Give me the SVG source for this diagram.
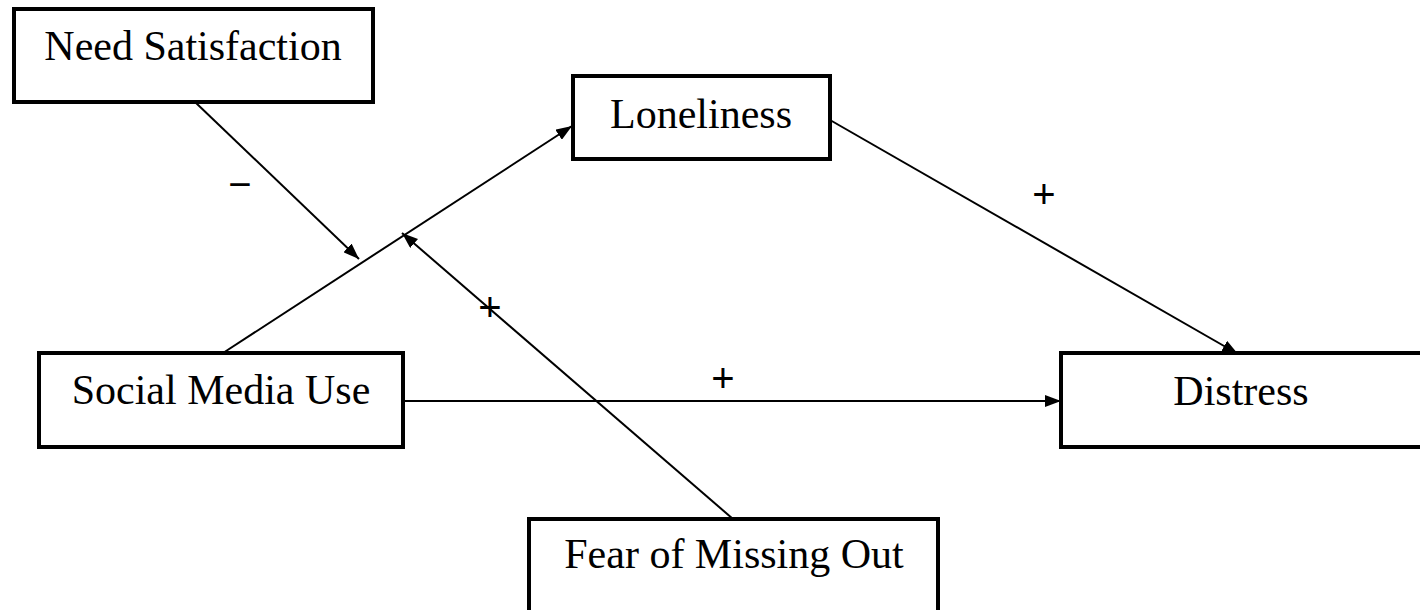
<svg xmlns="http://www.w3.org/2000/svg" width="1420" height="610" viewBox="0 0 1420 610">
<style>
.box{fill:#fff;stroke:#000;stroke-width:4}
.lbl{font-family:"Liberation Serif","Times New Roman",serif;font-size:42px;fill:#000;text-anchor:middle}
.sign{font-family:"Liberation Sans",Arial,sans-serif;font-size:40px;fill:#000;text-anchor:middle}
.edge{stroke:#000;stroke-width:2;fill:none;marker-end:url(#arr)}
</style>
<defs>
<marker id="arr" viewBox="0 0 16 12" refX="16" refY="6" markerWidth="16" markerHeight="12" markerUnits="userSpaceOnUse" orient="auto">
<path d="M0,0 L16,6 L0,12 Z" fill="#000"/>
</marker>
</defs>
<rect width="1420" height="610" fill="#fff"/>
<g id="connectors">
<line class="edge" x1="195" y1="102" x2="359" y2="259"/>
<line class="edge" x1="223" y1="353" x2="572" y2="126"/>
<line class="edge" x1="733" y1="519" x2="402" y2="233"/>
<line class="edge" x1="830" y1="120" x2="1238" y2="354"/>
<line class="edge" x1="403" y1="401" x2="1061" y2="401"/>
</g>
<g id="node-need">
<rect class="box" x="14" y="9" width="359" height="93"/>
<text class="lbl" x="193" y="60">Need Satisfaction</text>
</g>
<g id="node-loneliness">
<rect class="box" x="573" y="76" width="257" height="83"/>
<text class="lbl" x="701" y="128">Loneliness</text>
</g>
<g id="node-smu">
<rect class="box" x="39" y="353" width="364" height="94"/>
<text class="lbl" x="221" y="404">Social Media Use</text>
</g>
<g id="node-distress">
<rect class="box" x="1061" y="353" width="370" height="94"/>
<text class="lbl" x="1241" y="405">Distress</text>
</g>
<g id="node-fomo">
<rect class="box" x="529" y="519" width="409" height="110"/>
<text class="lbl" x="734" y="568">Fear of Missing Out</text>
</g>
<g id="labels">
<text class="sign" x="240" y="198">−</text>
<text class="sign" x="490" y="321">+</text>
<text class="sign" x="723" y="392">+</text>
<text class="sign" x="1044" y="208">+</text>
</g>
</svg>
